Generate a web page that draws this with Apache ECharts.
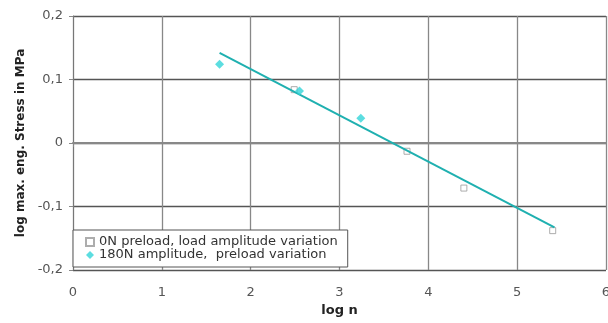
<!DOCTYPE html>
<html>
<head>
<meta charset="utf-8">
<script src="https://cdn.jsdelivr.net/npm/echarts@6/dist/echarts.min.js"></script>
<style>
  html, body { margin: 0; padding: 0; background: #fff; }
  #chart { width: 608px; height: 323px; }
</style>
</head>
<body>
<div id="chart"></div>
<script>
// 0N preload, load amplitude variation (log n, log stress)
const preloadX = [2.49, 3.76, 4.40, 5.40];
const preloadY = [0.084, -0.013, -0.071, -0.138];
// 180N amplitude, preload variation
const ampX = [1.65, 2.55, 3.24];
const ampY = [0.124, 0.082, 0.039];
// trend line end points
const trendX = [1.65, 5.42];
const trendY = [0.142, -0.133];

const xTicks = [0, 1, 2, 3, 4, 5, 6];
const yTicks = [-0.2, -0.1, 0, 0.1, 0.2];

const zip = (xs, ys) => xs.map((x, i) => [x, ys[i]]);
const font = 'DejaVu Sans, Liberation Sans, sans-serif';

const chart = echarts.init(document.getElementById('chart'));
chart.setOption({
  animation: false,
  textStyle: { fontFamily: font },
  grid: { left: 73, right: 2, top: 16, bottom: 53, outerBoundsMode: 'none', containLabel: false },
  xAxis: {
    type: 'value',
    min: xTicks[0], max: xTicks[xTicks.length - 1], interval: 1,
    name: 'log n', nameLocation: 'middle', nameGap: 34,
    nameTextStyle: { fontWeight: 'bold', fontSize: 13, color: '#222', fontFamily: font },
    axisLine: { lineStyle: { color: '#888', width: 2 } },
    axisTick: { show: true, lineStyle: { color: '#888' }, length: 4 },
    axisLabel: { color: '#555', fontSize: 13, margin: 16 },
    splitLine: { show: true, lineStyle: { color: '#888', width: 1.3 } }
  },
  yAxis: {
    type: 'value',
    min: yTicks[0], max: yTicks[yTicks.length - 1], interval: 0.1,
    name: 'log max. eng. Stress in MPa', nameLocation: 'middle', nameGap: 45,
    nameTextStyle: { fontWeight: 'bold', fontSize: 12, color: '#222', fontFamily: font },
    axisLine: { show: true, lineStyle: { color: '#777', width: 1 } },
    axisTick: { show: true, lineStyle: { color: '#888' }, length: 4 },
    axisLabel: {
      color: '#555', fontSize: 13, margin: 10,
      formatter: v => (Math.round(v * 10) / 10).toString().replace('.', ',')
    },
    splitLine: { show: true, lineStyle: { color: '#555', width: 1.3 } }
  },
  legend: {
    data: ['0N preload, load amplitude variation', '180N amplitude,  preload variation'],
    orient: 'vertical',
    left: 73, top: 230,
    itemWidth: 8, itemHeight: 8, itemGap: -1,
    padding: [5, 10, 5, 12],
    backgroundColor: '#fff',
    borderColor: '#555', borderWidth: 1,
    textStyle: { fontSize: 13, color: '#333', fontFamily: font, lineHeight: 14 }
  },
  series: [
    {
      name: 'trend',
      type: 'line',
      data: zip(trendX, trendY),
      showSymbol: false,
      lineStyle: { color: '#1fb0b0', width: 2 },
      z: 3
    },
    {
      name: '0N preload, load amplitude variation',
      type: 'scatter',
      data: zip(preloadX, preloadY),
      symbol: 'rect', symbolSize: 6,
      itemStyle: { color: '#fff', borderColor: '#999', borderWidth: 1 },
      z: 2
    },
    {
      name: '180N amplitude,  preload variation',
      type: 'scatter',
      data: zip(ampX, ampY),
      symbol: 'diamond', symbolSize: 9,
      itemStyle: { color: '#33d4d8' },
      z: 4
    }
  ]
});
</script>
</body>
</html>
